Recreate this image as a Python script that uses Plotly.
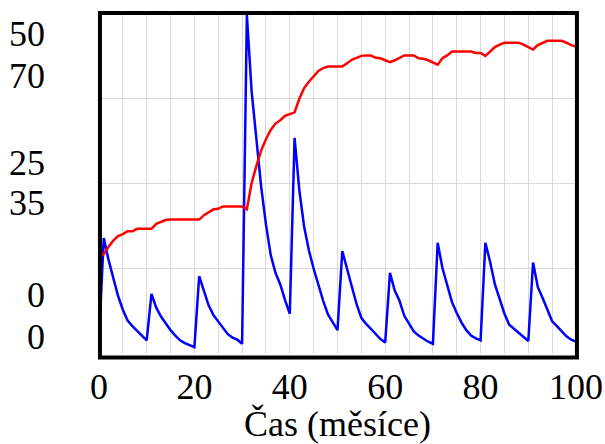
import plotly.graph_objects as go

# Time axis (months)
months = list(range(0, 101))

# Blue series (left scale 0..50)
blue_values = [
    2.2, 17.0, 13.8, 11.0, 8.5, 6.5, 4.9, 4.1, 3.4, 2.7,
    2.0, 8.8, 6.8, 5.5, 4.4, 3.5, 2.7, 2.0, 1.6, 1.3,
    1.0, 11.4, 9.3, 7.1, 5.7, 4.8, 3.8, 2.9, 2.4, 2.1,
    1.5, 49.7, 38.5, 31.5, 24.5, 19.0, 14.5, 11.9, 10.2, 7.9,
    5.9, 31.7, 24.0, 18.7, 15.2, 12.5, 10.0, 7.8, 5.8, 4.6,
    3.5, 15.1, 12.5, 9.6, 7.3, 5.3, 4.4, 3.7, 2.9, 2.2,
    1.7, 11.9, 9.3, 7.8, 5.6, 4.4, 3.3, 2.7, 2.2, 1.8,
    1.5, 16.3, 12.6, 10.0, 7.6, 6.0, 4.6, 3.5, 2.7, 2.3,
    2.0, 16.3, 13.5, 10.2, 8.0, 5.9, 4.3, 3.7, 3.1, 2.5,
    1.9, 13.4, 9.8, 8.2, 6.4, 4.8, 4.1, 3.3, 2.6, 2.1,
    1.8,
]

# Red series (right scale 0..70)
red_values = [
    19.9, 20.5, 22.0, 23.3, 24.2, 24.6, 25.2, 25.2, 25.7, 25.7,
    25.7, 25.7, 26.7, 27.1, 27.5, 27.6, 27.6, 27.6, 27.6, 27.6,
    27.6, 27.6, 28.5, 29.1, 29.7, 29.8, 30.3, 30.3, 30.3, 30.3,
    30.3, 29.7, 35.1, 38.6, 41.8, 44.1, 46.0, 47.3, 48.0, 48.9,
    49.2, 49.6, 52.4, 54.6, 55.9, 57.1, 58.1, 58.7, 59.0, 59.0,
    59.0, 59.0, 59.7, 60.4, 60.8, 61.2, 61.3, 61.3, 60.8, 60.7,
    60.3, 59.9, 60.3, 60.8, 61.3, 61.3, 61.3, 60.7, 60.6, 60.3,
    59.8, 59.4, 60.7, 61.3, 62.1, 62.1, 62.1, 62.1, 62.1, 61.8,
    61.8, 61.2, 62.2, 63.0, 63.5, 63.9, 63.9, 63.9, 63.9, 63.5,
    63.0, 62.5, 63.4, 63.9, 64.3, 64.3, 64.3, 64.3, 63.9, 63.4,
    63.1,
]

x_tick_values = [0, 20, 40, 60, 80, 100]
x_title = "Čas (měsíce)"

# Stacked left labels (text, paper-y position)
left_labels = ["50", "70", "25", "35", "0", "0"]
left_label_pos = [0.937, 0.815, 0.560, 0.443, 0.173, 0.050]

font_family = "Liberation Serif, Times New Roman, serif"
FS = 36

fig = go.Figure()
fig.add_trace(go.Scatter(
    x=months, y=blue_values, mode="lines",
    line=dict(color="#0000ff", width=2.5), yaxis="y", showlegend=False,
))
fig.add_trace(go.Scatter(
    x=months, y=red_values, mode="lines",
    line=dict(color="#ff0000", width=2.5), yaxis="y2", showlegend=False,
))

fig.update_layout(
    width=605, height=444,
    margin=dict(l=99, r=29, t=13, b=90, autoexpand=False),
    paper_bgcolor="white", plot_bgcolor="white",
    font=dict(family=font_family, size=FS, color="black"),
    xaxis=dict(
        range=[0, 100], tickvals=x_tick_values, automargin=False,
        showgrid=True, gridcolor="#d9d9d9", gridwidth=1,
        minor=dict(dtick=5, showgrid=True, gridcolor="#d9d9d9", gridwidth=1),
        zeroline=False, showline=False, ticks="",
        ticklabelstandoff=8,
        tickfont=dict(size=FS, family=font_family),
        title=dict(text=x_title, font=dict(size=FS, family=font_family), standoff=3),
    ),
    yaxis=dict(
        range=[0, 50], dtick=12.5, showticklabels=False, automargin=False,
        showgrid=True, gridcolor="#d9d9d9", gridwidth=1,
        zeroline=False, showline=False, ticks="",
    ),
    yaxis2=dict(
        range=[0, 70], overlaying="y", side="right", automargin=False,
        showticklabels=False, showgrid=False, zeroline=False, showline=False,
    ),
)

fig.add_shape(type="rect", xref="paper", yref="paper",
              x0=0.002, x1=1.002, y0=-0.01, y1=1.0,
              line=dict(color="black", width=4), fillcolor="rgba(0,0,0,0)",
              layer="above")

for txt, pos in zip(left_labels, left_label_pos):
    fig.add_annotation(
        text=txt, xref="paper", yref="paper",
        x=-0.109, y=pos, xanchor="right", yanchor="middle",
        showarrow=False, font=dict(size=FS, family=font_family, color="black"),
    )

fig.write_html(
    "out.html",
    config={"displayModeBar": False},
    post_script="document.body.style.margin='0';document.body.style.padding='0';",
)
